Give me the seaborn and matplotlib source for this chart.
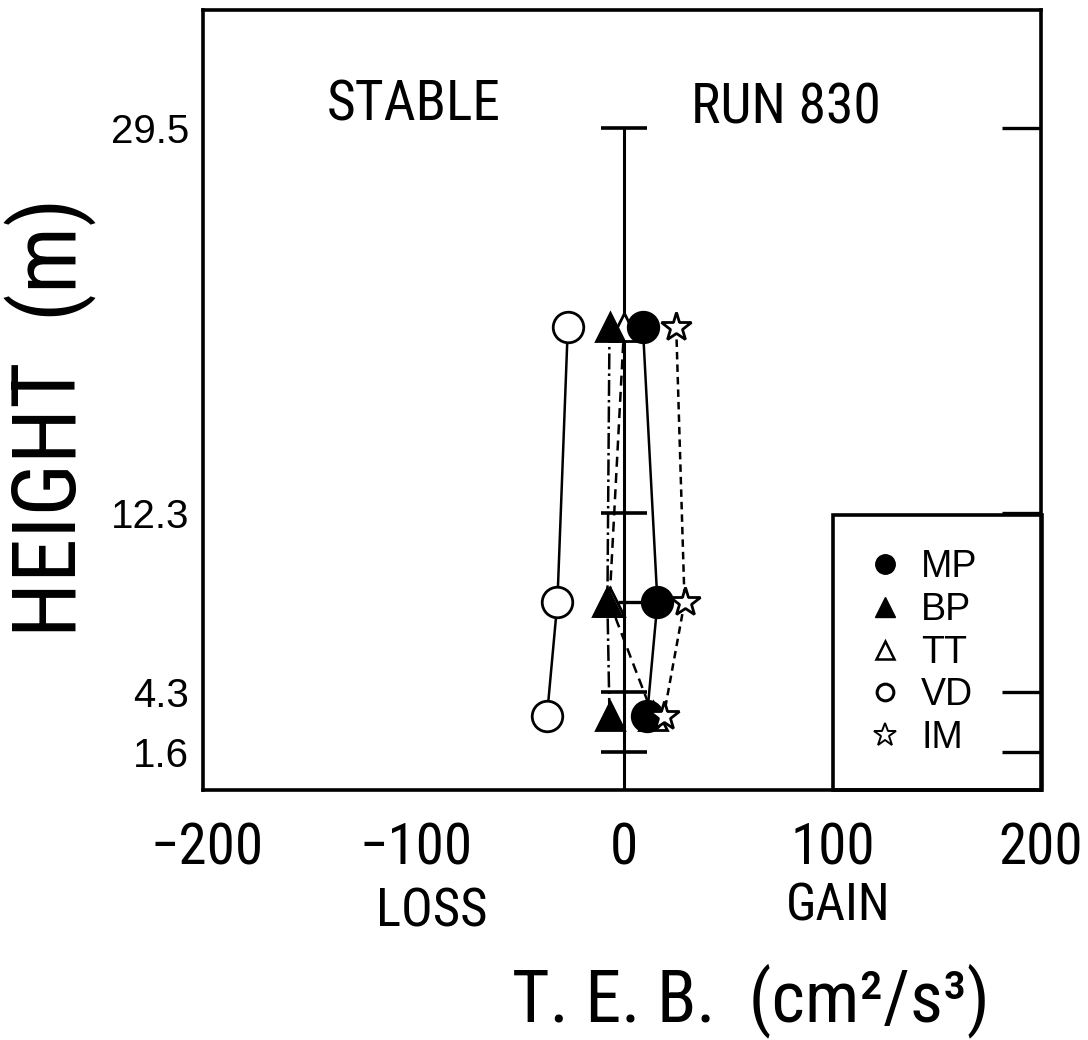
import numpy as np
import matplotlib.pyplot as plt
import pandas as pd
import seaborn as sns
from matplotlib.lines import Line2D

heights = [20.6, 8.3, 3.2]
mp = [9, 16, 11]
bp = [-7, -8, -7]
tt = [0, -7, 14]
vd = [-27, -32, -37]
im = [25, 29, 19]

ytick_vals = [1.6, 4.3, 12.3, 29.5]
xtick_vals = [-200, -100, 0, 100, 200]
xtick_text = ["\u2212200", "\u2212100", "0", "100", "200"]
cross_heights = [29.5, 12.3, 4.3, 1.6]

sns.set_style("white")
plt.rcParams['font.family'] = ['Roboto Condensed', 'DejaVu Sans']
plt.rcParams['text.color'] = 'black'
plt.rcParams['xtick.color'] = 'black'
plt.rcParams['ytick.color'] = 'black'

fig = plt.figure(figsize=(10.88, 10.40), dpi=100)
ax = fig.add_axes([0.1866, 0.2404, 0.7702, 0.75])

# zero line with its crossbars
ax.vlines(0, -0.1, 29.5, color="black", lw=2.2, zorder=1.5)
ax.hlines(cross_heights, -11, 11, color="black", lw=2.6, zorder=1.5)
ax.hlines(heights[1], -3, 8, color="black", lw=2.4, zorder=1.5)

series = [
    ("TT", tt, "^", "white", (0, (4, 2.5)), 20),
    ("BP", bp, "^", "black", "-.", 20),
    ("VD", vd, "o", "white", "-", 22),
    ("MP", mp, "o", "black", "-", 22),
    ("IM", im, "*", "white", (0, (3, 2)), 22),
]
for name, vals, mk, fc, ls, ms in series:
    df = pd.DataFrame({"teb": vals, "h": heights})
    sns.lineplot(data=df, x="teb", y="h", sort=False, estimator=None, ax=ax,
                 color="black", lw=1.8, linestyle=ls, marker=mk, markersize=ms,
                 markerfacecolor=fc, markeredgecolor="black", markeredgewidth=2,
                 zorder=3)

ax.set_xlim(-202, 198)
ax.set_ylim(-0.1, 34.77)
ax.set_xticks(xtick_vals)
ax.set_xticklabels(xtick_text)
ax.set_yticks(ytick_vals)
ax.set_yticklabels([str(v) for v in ytick_vals])
ax.set_xlabel("")
ax.set_ylabel("")
ax.tick_params(axis="x", direction="in", length=30, width=2.4, pad=23, labelsize=41)
ax.tick_params(axis="y", direction="in", length=28, width=2.4, pad=10, labelsize=29,
               right=True, labelright=False)
for lbl in ax.get_yticklabels():
    lbl.set_family("Liberation Sans")
for sp in ax.spines.values():
    sp.set_visible(True)
    sp.set_color("black")
    sp.set_linewidth(2.6)

handles = [
    Line2D([], [], ls="none", marker="o", ms=14, mfc="black", mec="black"),
    Line2D([], [], ls="none", marker="^", ms=14, mfc="black", mec="black"),
    Line2D([], [], ls="none", marker="^", ms=13, mfc="white", mec="black", mew=1.8),
    Line2D([], [], ls="none", marker="o", ms=12, mfc="white", mec="black", mew=2.2),
    Line2D([], [], ls="none", marker="*", ms=17, mfc="white", mec="black", mew=1.4),
]
leg = ax.legend(handles, ["MP", "BP", "TT", "VD", "IM"], loc="lower left",
                bbox_to_anchor=(0.7656, 0.2404, 0.1921, 0.2625),
                bbox_transform=fig.transFigure, mode="expand", borderaxespad=0,
                frameon=True, fancybox=False, edgecolor="black", framealpha=1,
                prop={"family": "Liberation Sans", "size": 27},
                handlelength=1.0, handletextpad=0.45, labelspacing=0.18,
                borderpad=0.9)
leg.get_frame().set_linewidth(2.6)
leg.get_frame().set_facecolor("none")

fig.text(0.3805, 0.899, "STABLE", ha="center", va="center", fontsize=40)
fig.text(0.7224, 0.896, "RUN 830", ha="center", va="center", fontsize=40)
fig.text(0.397, 0.123, "LOSS", ha="center", va="center", fontsize=38)
fig.text(0.770, 0.128, "GAIN", ha="center", va="center", fontsize=37)
fig.text(0.690, 0.0375, "T. E. B.  (cm\u00b2/s\u00b3)", ha="center", va="center", fontsize=52)
fig.text(0.047, 0.599, "HEIGHT  (m)", ha="center", va="center", rotation=90,
         fontsize=64)

fig.savefig("out.png", dpi=100)
